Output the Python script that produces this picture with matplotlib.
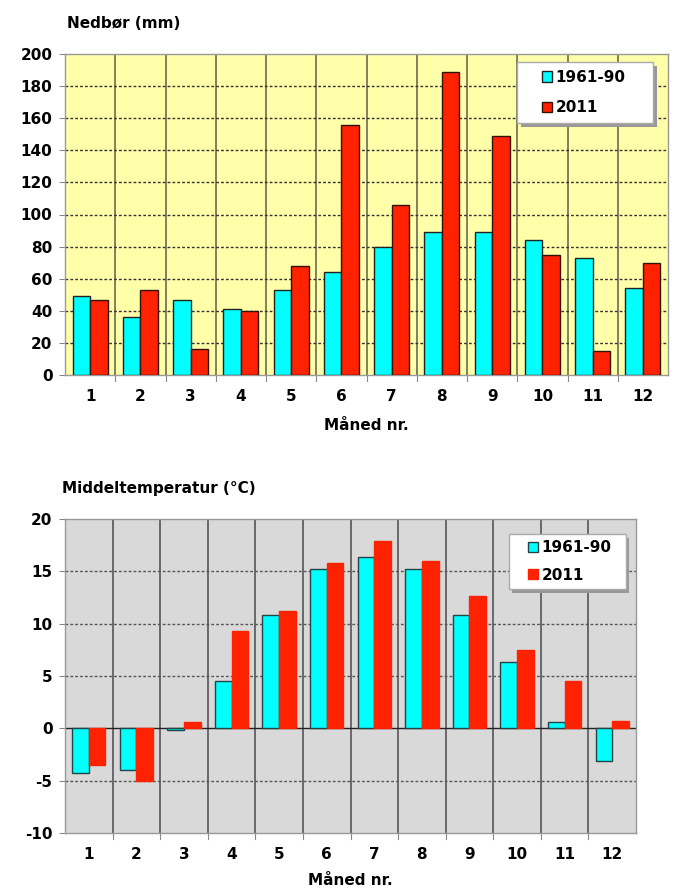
import matplotlib
matplotlib.use("Agg")
import matplotlib.pyplot as plt
from matplotlib.patches import Rectangle
import numpy as np

plt.rcParams['font.family'] = ['DejaVu Sans']
plt.rcParams['axes.unicode_minus'] = False

months = [1, 2, 3, 4, 5, 6, 7, 8, 9, 10, 11, 12]
series_names = ["1961-90", "2011"]
precip_normal = [49, 36, 47, 41, 53, 64, 80, 89, 89, 84, 73, 54]
precip_2011 = [47, 53, 16, 40, 68, 156, 106, 189, 149, 75, 15, 70]
temp_normal = [-4.3, -4.0, -0.2, 4.5, 10.8, 15.2, 16.4, 15.2, 10.8, 6.3, 0.6, -3.1]
temp_2011 = [-3.5, -5.0, 0.6, 9.3, 11.2, 15.8, 17.9, 16.0, 12.6, 7.5, 4.5, 0.7]

cyan = "#00FFFF"
red = "#FF2200"
FS = 11

fig = plt.figure(figsize=(6.75, 8.89), dpi=100)
ax1 = fig.add_axes([65/675, 1-375/889, (668-65)/675, (375-54)/889])
ax2 = fig.add_axes([65/675, 1-833/889, (636-65)/675, (833-519)/889])

x = np.arange(len(months))
w = 0.35

def style(ax, bg, ymin, ymax, step, vcol, hcol, xpad, lpad):
    ax.set_facecolor(bg)
    ax.set_xlim(-0.5, len(months) - 0.5)
    ax.set_ylim(ymin, ymax)
    ax.set_yticks(np.arange(ymin, ymax + 0.01, step))
    ax.set_xticks(x)
    ax.set_xticklabels([str(m) for m in months], fontweight='bold', fontsize=FS)
    for lab in ax.get_yticklabels():
        lab.set_fontweight('bold'); lab.set_fontsize(FS)
    ax.tick_params(axis='x', length=0, pad=xpad)
    ax.tick_params(axis='y', length=4, width=0.8, color='#888888', pad=5)
    for b in np.arange(0.5, len(months) - 0.5, 1):
        ax.axvline(b, color=vcol, lw=1.2, zorder=1)
        ax.plot([b, b], [0, -0.02], transform=ax.get_xaxis_transform(), color='#888888', lw=0.8, clip_on=False)
    for yv in np.arange(ymin, ymax + 0.01, step)[1:-1]:
        if yv != 0:
            ax.axhline(yv, color=hcol, lw=1.0, ls=(0, (2, 1.5)), zorder=1)
    for s in ax.spines.values():
        s.set_color('#999999'); s.set_linewidth(1.0)
    ax.set_xlabel("Måned nr.", fontweight='bold', fontsize=FS, labelpad=lpad)

def legend_box(ax, x0, y0, x1, y1, cx, spacing):
    sh = Rectangle((x0 + 0.006, y0 - 0.012), x1 - x0, y1 - y0, transform=ax.transAxes,
                   facecolor='#999999', edgecolor='none', zorder=5)
    bx = Rectangle((x0, y0), x1 - x0, y1 - y0, transform=ax.transAxes,
                   facecolor='white', edgecolor='#aaaaaa', lw=1.0, zorder=6)
    ax.add_patch(sh); ax.add_patch(bx)
    leg = ax.legend(loc='center left', bbox_to_anchor=(cx, (y0 + y1) / 2), frameon=False,
                    prop={'weight': 'bold', 'size': FS}, handlelength=0.65, handleheight=0.65,
                    handletextpad=0.25, borderpad=0, borderaxespad=0, labelspacing=spacing)
    leg.set_zorder(7)

style(ax1, "#FFFFAA", 0, 200, 20, "#6b6b50", "#333333", 10, 10)
ax1.bar(x - w/2, precip_normal, w, color=cyan, edgecolor='#222222', lw=1.0, zorder=3, label=series_names[0])
ax1.bar(x + w/2, precip_2011, w, color=red, edgecolor='#331100', lw=1.0, zorder=3, label=series_names[1])
legend_box(ax1, (517-65)/603, 1-(123-54)/321, (653-65)/603, 1-(62-54)/321, (542-65)/603, 1.0)
fig.text(67/675, 1-24/889, "Nedbør (mm)", fontweight='bold', fontsize=FS, va='center', ha='left')

style(ax2, "#D9D9D9", -10, 20, 5, "#555555", "#555555", 10, 8)
ax2.axhline(0, color='#222222', lw=1.0, zorder=2)
ax2.bar(x - w/2, temp_normal, w, color=cyan, edgecolor='#224444', lw=1.0, zorder=3, label=series_names[0])
ax2.bar(x + w/2, temp_2011, w, color=red, edgecolor=red, lw=1.0, zorder=3, label=series_names[1])
legend_box(ax2, (509-65)/571, 1-(589-519)/314, (626-65)/571, 1-(534-519)/314, (528-65)/571, 0.8)
fig.text(62/675, 1-488/889, "Middeltemperatur (°C)", fontweight='bold', fontsize=FS, va='center', ha='left')

fig.savefig("out.png", dpi=100)
